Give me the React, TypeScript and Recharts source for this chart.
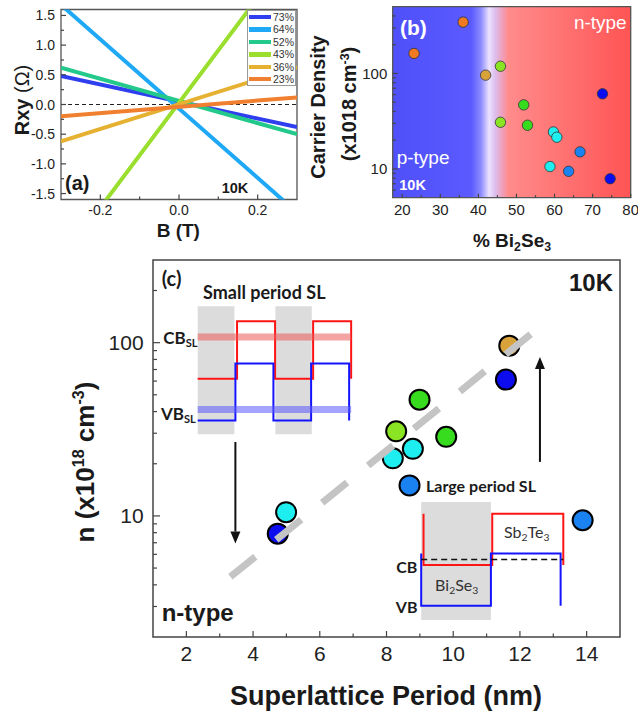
import React from 'react';
import {
  LineChart, Line, XAxis, YAxis, ReferenceLine, ReferenceArea, Legend,
  ScatterChart, Scatter, ComposedChart,
} from 'recharts';

const SANS = '"Liberation Sans", Arial, Helvetica, sans-serif';
const CAL = 'Lato, "Open Sans", sans-serif';
const INK = '#1a1a1a';
const AXIS = '#444';

// ---------------- Panel (a): Hall resistance vs field ----------------
const fieldB = [-0.3, 0.3];
const rxy73 = [0.48, -0.38];
const rxy64 = [1.68, -1.82];
const rxy52 = [0.62, -0.5];
const rxy43 = [-2.62, 2.68];
const rxy36 = [-0.62, 0.63];
const rxy23 = [-0.2, 0.12];
const compLabels = ['73%', '64%', '52%', '43%', '36%', '23%'];
const compColors = ['#2f3ff0', '#1ea8f5', '#22c98a', '#9ade2e', '#e6b030', '#f08030'];
const compKeys = ['s73', 's64', 's52', 's43', 's36', 's23'];
const compVals = [rxy73, rxy64, rxy52, rxy43, rxy36, rxy23];
const tableA = fieldB.map((b, i) => {
  const row: any = { B: b };
  compKeys.forEach((k, j) => { row[k] = compVals[j][i]; });
  return row;
});
const aXMajor = [-0.2, 0, 0.2];
const aXMinor = [-0.1, 0.1];
const aYMajor = [-1.5, -1, -0.5, 0, 0.5, 1, 1.5];
const aYMinor = [-1.25, -0.75, -0.25, 0.25, 0.75, 1.25];

// ---------------- Panel (b): carrier density vs % Bi2Se3 ----------------
const bOrange = [{ x: 23.1, y: 162 }, { x: 36.0, y: 345 }];
const bGolden = [{ x: 41.9, y: 96 }];
const bYellowGreen = [{ x: 45.8, y: 119 }, { x: 45.8, y: 30.8 }];
const bGreen = [{ x: 51.9, y: 46.9 }, { x: 52.9, y: 28.7 }];
const bCyan = [{ x: 59.7, y: 24.4 }, { x: 60.6, y: 21.5 }, { x: 58.8, y: 10.6 }];
const bMidBlue = [{ x: 63.7, y: 9.45 }, { x: 66.7, y: 15.1 }];
const bDarkBlue = [{ x: 72.6, y: 61.2 }, { x: 74.6, y: 7.9 }];
const bXMajor = [20, 30, 40, 50, 60, 70, 80];
const bXMinor = [25, 35, 45, 55, 65, 75];
const bYMajor = [10, 100];
const bYMinor = [6, 7, 8, 9, 20, 30, 40, 50, 60, 70, 80, 90, 200, 300, 400];

// ---------------- Panel (c): carrier density vs SL period ----------------
const cGolden = [{ x: 11.68, y: 96.1 }];
const cDarkBlue = [{ x: 11.58, y: 61.2 }, { x: 4.74, y: 7.9 }];
const cGreen = [{ x: 8.99, y: 46.9 }, { x: 9.79, y: 28.6 }];
const cYellowGreen = [{ x: 8.29, y: 30.8 }];
const cCyan = [{ x: 8.79, y: 24.4 }, { x: 8.19, y: 21.5 }, { x: 4.99, y: 10.5 }];
const cMidBlue = [{ x: 8.69, y: 15.0 }, { x: 13.88, y: 9.44 }];
const trendX = [3.32, 12.4];
const trendY = [4.45, 115];
const trendPts = trendX.map((x, i) => ({ x, y: trendY[i] }));
const cXMajor = [2, 4, 6, 8, 10, 12, 14];
const cXMinor = [3, 5, 7, 9, 11, 13];
const cYMajor = [10, 100];
const cYMinor = [3, 4, 5, 6, 7, 8, 9, 20, 30, 40, 50, 60, 70, 80, 90, 200];

// inset schematics (in data units of panel c)
const smallWellsX = [[2.34, 3.44], [4.67, 5.76]];
const smallWellY = [29.6, 162];
const smallCB = [
  { x: 2.34, y: 62 }, { x: 3.52, y: 62 }, { x: 3.52, y: 133 }, { x: 4.66, y: 133 },
  { x: 4.66, y: 62 }, { x: 5.8, y: 62 }, { x: 5.8, y: 133 }, { x: 6.94, y: 133 }, { x: 6.94, y: 62 },
];
const smallVB = [
  { x: 2.34, y: 35.5 }, { x: 3.47, y: 35.5 }, { x: 3.47, y: 75.7 }, { x: 4.61, y: 75.7 },
  { x: 4.61, y: 35.5 }, { x: 5.74, y: 35.5 }, { x: 5.74, y: 75.7 }, { x: 6.88, y: 75.7 }, { x: 6.88, y: 35.5 },
];
const bandX = [2.34, 6.94];
const cbSL = 107.7;
const vbSL = 41.1;
const largeWellX = [9.04, 11.13];
const largeWellY = [2.51, 12.05];
const largeCB = [
  { x: 9.11, y: 10.3 }, { x: 9.11, y: 5.2 }, { x: 11.17, y: 5.2 }, { x: 11.17, y: 10.3 },
  { x: 13.3, y: 10.3 }, { x: 13.3, y: 5.2 },
];
const largeVB = [
  { x: 9.04, y: 6.07 }, { x: 9.04, y: 3.03 }, { x: 11.13, y: 3.03 }, { x: 11.13, y: 6.07 },
  { x: 13.22, y: 6.07 }, { x: 13.22, y: 3.03 },
];
const fermiX = [9.04, 13.3];
const fermiY = 5.61;
const arrowDown = { x: 3.47, from: 26.7, to: 6.93 };
const arrowUp = { x: 12.6, from: 20.5, to: 82.6 };

const groupColor = {
  orange: '#f07a22', golden: '#d9a33c', yellowGreen: '#8ae424', green: '#38dc1e',
  cyan: '#1eeef0', midBlue: '#1b82f2', darkBlue: '#0c0cee',
};

// ---------------- helpers ----------------
const near = (list: number[], v: number) => list.some((m) => Math.abs(m - v) < 1e-6);

function xTick(majors: number[], fmt: (v: number) => string, fs: number, dy: number, majLen: number, minLen: number) {
  return (p: any) => {
    const v = Number(p.payload?.value);
    const maj = near(majors, v);
    return (
      <g>
        <line x1={p.x} x2={p.x} y1={p.y} y2={p.y - (maj ? majLen : minLen)} stroke={AXIS} strokeWidth={1.2} />
        {maj && (
          <text x={p.x} y={p.y + dy} textAnchor="middle" dominantBaseline="central" fontSize={fs} fontFamily={SANS} fill="#222">
            {fmt(v)}
          </text>
        )}
      </g>
    );
  };
}
function yTick(majors: number[], fmt: (v: number) => string, fs: number, dx: number, majLen: number, minLen: number) {
  return (p: any) => {
    const v = Number(p.payload?.value);
    const maj = near(majors, v);
    return (
      <g>
        <line x1={p.x} x2={p.x + (maj ? majLen : minLen)} y1={p.y} y2={p.y} stroke={AXIS} strokeWidth={1.2} />
        {maj && (
          <text x={p.x - dx} y={p.y} textAnchor="end" dominantBaseline="central" fontSize={fs} fontFamily={SANS} fill="#222">
            {fmt(v)}
          </text>
        )}
      </g>
    );
  };
}

const arrowShape = (p: any) => {
  const { x1, y1, x2, y2 } = p;
  const ang = Math.atan2(y2 - y1, x2 - x1);
  const L = 12, W = 5;
  const bx = x2 - L * Math.cos(ang);
  const by = y2 - L * Math.sin(ang);
  const pts = `${x2},${y2} ${bx + W * Math.sin(ang)},${by - W * Math.cos(ang)} ${bx - W * Math.sin(ang)},${by + W * Math.cos(ang)}`;
  return (
    <g>
      <line x1={x1} y1={y1} x2={bx} y2={by} stroke="#111" strokeWidth={2} />
      <polygon points={pts} fill="#111" />
    </g>
  );
};

const dotShape = (color: string, r: number, sw: number, sc: string) => (p: any) => (
  <circle cx={p.cx} cy={p.cy} r={r} fill={color} stroke={sc} strokeWidth={sw} />
);

type TxtProps = {
  x: number; y: number; size: number; bold?: boolean; color?: string;
  anchor?: 'start' | 'middle' | 'end'; rotate?: boolean; font?: string; children: React.ReactNode;
};
const Txt = ({ x, y, size, bold, color = INK, anchor = 'middle', rotate, font = SANS, children }: TxtProps) => {
  const tx = anchor === 'start' ? '0' : anchor === 'end' ? '-100%' : '-50%';
  return (
    <div
      style={{
        position: 'absolute', left: x, top: y,
        transform: `translate(${tx},-50%)${rotate ? ' rotate(-90deg)' : ''}`,
        fontSize: size, fontWeight: bold ? 700 : 400, color, fontFamily: font,
        whiteSpace: 'nowrap', lineHeight: 1, pointerEvents: 'none',
      }}
    >
      {children}
    </div>
  );
};
const Sup = ({ children }: { children: React.ReactNode }) => (
  <span style={{ fontSize: '0.62em', position: 'relative', top: '-0.6em' }}>{children}</span>
);
const Sub = ({ children }: { children: React.ReactNode }) => (
  <span style={{ fontSize: '0.65em', position: 'relative', top: '0.3em' }}>{children}</span>
);

const LegendA = (props: any) => {
  const items = [...(props.payload || [])].sort(
    (a: any, b: any) => compLabels.indexOf(a.value) - compLabels.indexOf(b.value),
  );
  return (
    <div style={{ border: '1px solid #9a9a9a', background: '#fff', boxSizing: 'border-box', width: 49, height: 76, padding: '0 1px' }}>
      {items.map((e: any) => (
        <div key={e.value} style={{ display: 'flex', alignItems: 'center', height: 12.4 }}>
          <span style={{ display: 'inline-block', width: 23, height: 4.5, background: e.color, marginRight: 2 }} />
          <span style={{ fontSize: 10.5, fontFamily: SANS, color: '#333', lineHeight: 1 }}>{e.value}</span>
        </div>
      ))}
    </div>
  );
};

const bGroups = [
  { name: 'orange', data: bOrange },
  { name: 'golden', data: bGolden },
  { name: 'yellowGreen', data: bYellowGreen },
  { name: 'green', data: bGreen },
  { name: 'cyan', data: bCyan },
  { name: 'midBlue', data: bMidBlue },
  { name: 'darkBlue', data: bDarkBlue },
];
const cGroups = [
  { name: 'cyan', data: cCyan },
  { name: 'golden', data: cGolden },
  { name: 'darkBlue', data: cDarkBlue },
  { name: 'green', data: cGreen },
  { name: 'yellowGreen', data: cYellowGreen },
  { name: 'midBlue', data: cMidBlue },
];

export default function App() {
  const trendProps: any = { zIndex: 900 };
  return (
    <div style={{ position: 'absolute', left: 0, top: 0, width: 638, height: 711, background: '#fff', overflow: 'hidden' }}>
      {/* Panel (a) */}
      <div style={{ position: 'absolute', left: 0, top: 0 }}>
        <LineChart width={300} height={250} data={tableA} margin={{ top: 9.5, right: 3, bottom: 25.5, left: 21 }}>
          <XAxis dataKey="B" type="number" domain={[-0.3, 0.3]} allowDataOverflow ticks={[...aXMajor, ...aXMinor]}
            interval={0} tickSize={0} tickMargin={0} axisLine={false} tickLine={false} height={25}
            tick={xTick(aXMajor, (v) => v.toFixed(1), 14, 10.5, 5, 3)} />
          <YAxis type="number" domain={[-1.6, 1.6]} allowDataOverflow ticks={[...aYMajor, ...aYMinor]}
            interval={0} tickSize={0} tickMargin={0} axisLine={false} tickLine={false} width={40}
            tick={yTick(aYMajor, (v) => v.toFixed(1), 14, 6, 5, 3)} />
          <ReferenceLine y={0} stroke="#222" strokeDasharray="4 3" strokeWidth={1} />
          {compKeys.map((k, j) => (
            <Line key={k} dataKey={k} name={compLabels[j]} stroke={compColors[j]} strokeWidth={4}
              dot={false} activeDot={false} type="linear" isAnimationActive={false} />
          ))}
          <ReferenceArea x1={-0.3} x2={0.3} y1={-1.6} y2={1.6} fill="none" stroke="#555" strokeWidth={1.3} />
          <Legend content={LegendA} layout="vertical" align="center" verticalAlign="middle"
            wrapperStyle={{ left: 247, top: 10, width: 49, height: 76 }} />
        </LineChart>
      </div>

      {/* Panel (b) */}
      <div style={{ position: 'absolute', left: 300, top: 0 }}>
        <ScatterChart width={338} height={250} margin={{ top: 6.7, right: 7.3, bottom: 27.3, left: 52.7 }}>
          <defs>
            <linearGradient id="bGrad" x1="0" y1="0" x2="1" y2="0">
              <stop offset="0" stopColor="#5050fa" />
              <stop offset="0.33" stopColor="#5a5aff" />
              <stop offset="0.37" stopColor="#8a8aff" />
              <stop offset="0.405" stopColor="#ece2ff" />
              <stop offset="0.43" stopColor="#dcbfee" />
              <stop offset="0.46" stopColor="#eea0bc" />
              <stop offset="0.485" stopColor="#ff8b8b" />
              <stop offset="1" stopColor="#ff5454" />
            </linearGradient>
          </defs>
          <XAxis dataKey="x" type="number" domain={[17.5, 80]} allowDataOverflow ticks={[...bXMajor, ...bXMinor]}
            interval={0} tickSize={0} tickMargin={0} axisLine={false} tickLine={false} height={25}
            tick={xTick(bXMajor, (v) => String(v), 15, 11.3, 4, 2.5)} />
          <YAxis dataKey="y" type="number" scale="log" domain={[5, 500]} allowDataOverflow ticks={[...bYMajor, ...bYMinor]}
            interval={0} tickSize={0} tickMargin={0} axisLine={false} tickLine={false} width={40}
            tick={yTick(bYMajor, (v) => String(v), 15, 5.4, 5, 3)} />
          <ReferenceArea x1={17.5} x2={80} y1={5} y2={500} fill="url(#bGrad)" fillOpacity={1} stroke="none" />
          {bGroups.map((g) => (
            <Scatter key={g.name} name={g.name} data={g.data} dataKey="y" isAnimationActive={false}
              shape={dotShape((groupColor as any)[g.name], 5.2, 0.8, '#333')} />
          ))}
          <ReferenceArea x1={17.5} x2={80} y1={5} y2={500} fill="none" stroke="#555" strokeWidth={1.3} />
        </ScatterChart>
      </div>

      {/* Panel (c) */}
      <div style={{ position: 'absolute', left: 0, top: 250 }}>
        <ComposedChart width={638} height={461} margin={{ top: 10, right: 18, bottom: 44, left: 93 }}>
          <XAxis dataKey="x" type="number" domain={[1, 15]} allowDataOverflow ticks={[...cXMajor, ...cXMinor]}
            interval={0} tickSize={0} tickMargin={0} axisLine={false} tickLine={false} height={30}
            tick={xTick(cXMajor, (v) => String(v), 21, 16.3, 6, 3.5)} />
          <YAxis dataKey="y" type="number" scale="log" domain={[2, 300]} allowDataOverflow ticks={[...cYMajor, ...cYMinor]}
            interval={0} tickSize={0} tickMargin={0} axisLine={false} tickLine={false} width={60}
            tick={yTick(cYMajor, (v) => String(v), 21, 9.4, 7, 4)} />
          {smallWellsX.map((w, i) => (
            <ReferenceArea key={'sw' + i} x1={w[0]} x2={w[1]} y1={smallWellY[0]} y2={smallWellY[1]} fill="#dcdcdc" fillOpacity={1} stroke="none" />
          ))}
          <ReferenceArea x1={largeWellX[0]} x2={largeWellX[1]} y1={largeWellY[0]} y2={largeWellY[1]} fill="#dcdcdc" fillOpacity={1} stroke="none" />
          <Line data={smallCB} dataKey="y" stroke="#ff1414" strokeWidth={2} dot={false} activeDot={false} type="linear" isAnimationActive={false} legendType="none" />
          <Line data={smallVB} dataKey="y" stroke="#1414ff" strokeWidth={2} dot={false} activeDot={false} type="linear" isAnimationActive={false} legendType="none" />
          <Line data={largeCB} dataKey="y" stroke="#ff1414" strokeWidth={2} dot={false} activeDot={false} type="linear" isAnimationActive={false} legendType="none" />
          <Line data={largeVB} dataKey="y" stroke="#1414ff" strokeWidth={2} dot={false} activeDot={false} type="linear" isAnimationActive={false} legendType="none" />
          <ReferenceLine segment={[{ x: bandX[0], y: cbSL }, { x: bandX[1], y: cbSL }]} stroke="rgba(236,90,90,0.55)" strokeWidth={7} />
          <ReferenceLine segment={[{ x: bandX[0], y: vbSL }, { x: bandX[1], y: vbSL }]} stroke="rgba(90,90,255,0.55)" strokeWidth={7} />
          <ReferenceLine segment={[{ x: fermiX[0], y: fermiY }, { x: fermiX[1], y: fermiY }]} stroke="#111" strokeWidth={1.5} strokeDasharray="6 4" />
          {cGroups.map((g) => (
            <Scatter key={g.name} name={g.name} data={g.data} dataKey="y" isAnimationActive={false}
              shape={dotShape((groupColor as any)[g.name], 10, 2, '#000')} />
          ))}
          <Line data={trendPts} dataKey="y" stroke="#c4c4c4" strokeWidth={7} strokeDasharray="32 27"
            dot={false} activeDot={false} type="linear" isAnimationActive={false} legendType="none" {...trendProps} />
          <ReferenceLine segment={[{ x: arrowDown.x, y: arrowDown.from }, { x: arrowDown.x, y: arrowDown.to }]} shape={arrowShape} />
          <ReferenceLine segment={[{ x: arrowUp.x, y: arrowUp.from }, { x: arrowUp.x, y: arrowUp.to }]} shape={arrowShape} />
          <ReferenceArea x1={1} x2={15} y1={2} y2={300} fill="none" stroke="#444" strokeWidth={1.5} />
        </ComposedChart>
      </div>

      {/* Text: panel (a) */}
      <Txt x={65} y={183.3} size={20} bold anchor="start">(a)</Txt>
      <Txt x={221.7} y={188.3} size={14.5} bold anchor="start">10K</Txt>
      <Txt x={22} y={100} size={20} rotate><b>Rxy</b> (Ω)</Txt>
      <Txt x={178.3} y={230} size={19} bold>B (T)</Txt>

      {/* Text: panel (b) */}
      <Txt x={400} y={26.7} size={21} bold color="#fff" anchor="start">(b)</Txt>
      <Txt x={626.7} y={21.7} size={19} color="#fff" anchor="end">n-type</Txt>
      <Txt x={396.7} y={156.7} size={19} color="#fff" anchor="start">p-type</Txt>
      <Txt x={399.3} y={185} size={14.5} bold color="#fff" anchor="start">10K</Txt>
      <Txt x={318.3} y={107} size={20} bold rotate>Carrier Density</Txt>
      <Txt x={349.3} y={104} size={20} bold rotate>(x1018 cm<Sup>-3</Sup>)</Txt>
      <Txt x={512} y={240} size={19} bold>% Bi<Sub>2</Sub>Se<Sub>3</Sub></Txt>

      {/* Text: panel (c) */}
      <Txt x={161.7} y={278} size={20} bold font={CAL} anchor="start">(c)</Txt>
      <Txt x={613} y={283} size={24} bold anchor="end">10K</Txt>
      <Txt x={203} y={291.7} size={18} bold font={CAL} anchor="start">Small period SL</Txt>
      <Txt x={163.3} y={336.7} size={17} bold font={CAL} anchor="start">CB<Sub>SL</Sub></Txt>
      <Txt x={161} y={413} size={17} bold font={CAL} anchor="start">VB<Sub>SL</Sub></Txt>
      <Txt x={426} y={486} size={16} bold font={CAL} anchor="start">Large period SL</Txt>
      <Txt x={526.7} y={531.7} size={16} font={CAL} color="#333">Sb<Sub>2</Sub>Te<Sub>3</Sub></Txt>
      <Txt x={456.7} y={585} size={16} font={CAL} color="#333">Bi<Sub>2</Sub>Se<Sub>3</Sub></Txt>
      <Txt x={406.7} y={566.7} size={16} bold font={CAL}>CB</Txt>
      <Txt x={406.7} y={607.3} size={16} bold font={CAL}>VB</Txt>
      <Txt x={161.7} y={613} size={24} bold anchor="start">n-type</Txt>
      <Txt x={85} y={462} size={26} bold rotate>n (x10<Sup>18</Sup> cm<Sup>-3</Sup>)</Txt>
      <Txt x={386} y={696} size={27} bold>Superlattice Period (nm)</Txt>
    </div>
  );
}
